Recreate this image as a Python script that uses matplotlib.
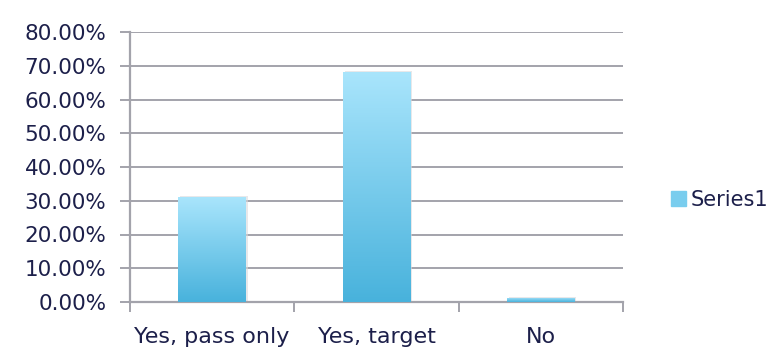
import numpy as np
import matplotlib.pyplot as plt
import matplotlib.colors as colors
import matplotlib.patches as mpatches
from matplotlib.ticker import FuncFormatter

categories = ['Yes, pass only', 'Yes, target', 'No']
values = [31.1, 68.1, 1.2]
series_name = 'Series1'

text_color = '#1c1f4a'
grid_color = '#a3a3ab'
top_color = '#a9e5fc'
bottom_color = '#48b2dc'

plt.rcParams['font.family'] = ['DejaVu Sans']

fig = plt.figure(figsize=(7.72, 3.56), dpi=100)
ax = fig.add_axes([130 / 772, 54 / 356, 493 / 772, 270 / 356])

x = np.arange(len(categories)) + 0.5
bars = ax.bar(x, values, width=0.41, color=bottom_color, zorder=3)

# vertical gradient on each bar
cmap = colors.LinearSegmentedColormap.from_list('bar', [bottom_color, top_color])
grad = np.linspace(0, 1, 256).reshape(-1, 1)
for b in bars:
    bx, by = b.get_x(), b.get_y()
    bw, bh = b.get_width(), b.get_height()
    # faint shadow
    ax.add_patch(mpatches.Rectangle((bx + 0.012, by), bw, bh + 0.3,
                                    color='#d9d9dc', alpha=0.6, zorder=2, lw=0))
    im = ax.imshow(grad, cmap=cmap, origin='lower', aspect='auto',
                   extent=[bx, bx + bw, by, by + bh], zorder=4)
    im.set_clip_path(b)

ax.set_xlim(0, len(categories))
ax.set_ylim(0, 80)
ax.set_yticks(np.arange(0, 81, 10))
ax.yaxis.set_major_formatter(FuncFormatter(lambda v, p: f'{v:.2f}%'))
ax.grid(axis='y', color=grid_color, lw=1.4, zorder=1)

ax.set_xticks(np.arange(len(categories) + 1))
ax.set_xticklabels([])
ax.set_xticks(x, minor=True)
ax.set_xticklabels(categories, minor=True)
ax.tick_params(axis='x', which='major', length=7, width=1.4, color=grid_color)
ax.tick_params(axis='x', which='minor', length=0, pad=18,
               labelsize=16, labelcolor=text_color)
ax.tick_params(axis='y', length=7, width=1.4, color=grid_color,
               labelsize=15.5, labelcolor=text_color, pad=10)

for s in ['top', 'right']:
    ax.spines[s].set_visible(False)
for s in ['left', 'bottom']:
    ax.spines[s].set_color(grid_color)
    ax.spines[s].set_linewidth(1.6)

# legend
handle = mpatches.Rectangle((0, 0), 1, 1, color='#79cdee')
fig.legend([handle], [series_name], loc='center left',
           bbox_to_anchor=(671 / 772, 1 - 200 / 356), frameon=False,
           fontsize=15, labelcolor=text_color, handlelength=0.72,
           handleheight=0.72, handletextpad=0.2, borderpad=0,
           borderaxespad=0)

plt.savefig('out.png', dpi=100)
plt.close()
